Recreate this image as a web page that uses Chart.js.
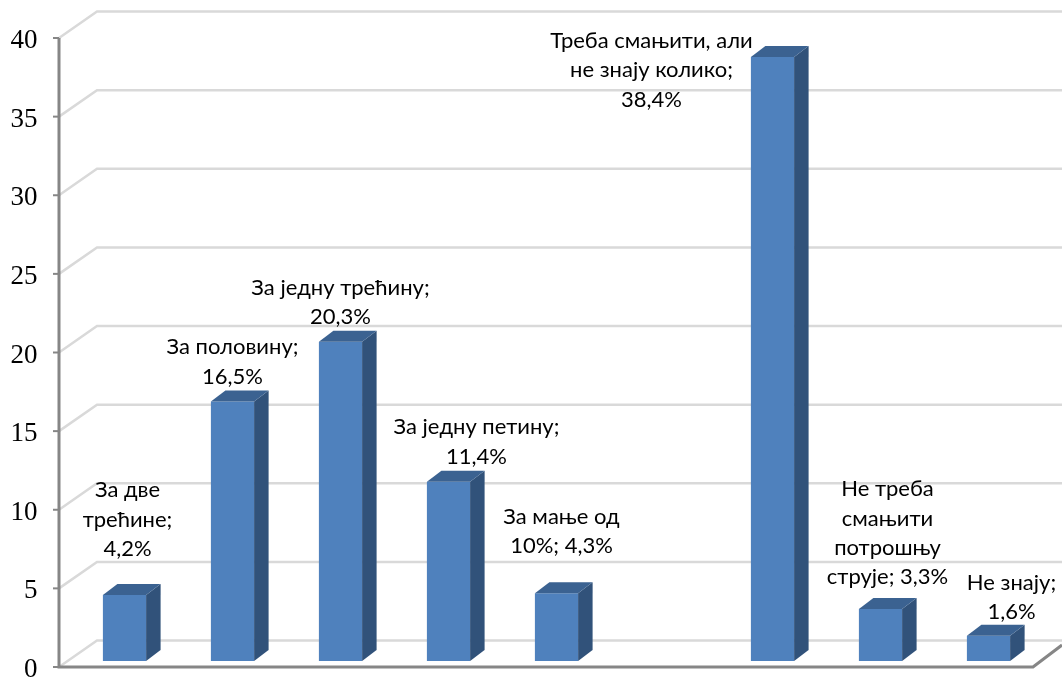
<!DOCTYPE html>
<html>
<head>
<meta charset="utf-8">
<style>
  html, body { margin: 0; padding: 0; background: #fff; }
  canvas { display: block; }
</style>
<script src="https://cdn.jsdelivr.net/npm/chart.js@4"></script>
</head>
<body>
<canvas id="myChart" width="1062" height="679"></canvas>
<script>
// last slot before "Не треба..." is empty in the original, so one blank category
const categories = ["За две трећине", "За половину", "За једну трећину", "За једну петину", "За мање од 10%", "", "Треба смањити, али не знају колико", "Не треба смањити потрошњу струје", "Не знају"];
const values = [4.2, 16.5, 20.3, 11.4, 4.3, null, 38.4, 3.3, 1.6];
const tickValues = [0, 5, 10, 15, 20, 25, 30, 35, 40];
const labelLines = [
    ["За две", "трећине;", "4,2%"],
    ["За половину;", "16,5%"],
    ["За једну трећину;", "20,3%"],
    ["За једну петину;", "11,4%"],
    ["За мање од", "10%; 4,3%"],
    [],
    ["Треба смањити, али", "не знају колико;", "38,4%"],
    ["Не треба", "смањити", "потрошњу", "струје; 3,3%"],
    ["Не знају;", "1,6%"]
];
// label placement relative to bar: horizontal shift, gap from last line to bar top
const labelShiftX = [3, 0, 0, 28, 5, 0, -121, 7, 23];
const labelGapY = [46, 25, 25, 25, 47, 0, -42.5, 32, 24];

const depthX = 14.5;
const depthY = 11;
const wallX = 38;
const wallY = 26.5;
const axisX = 59;
const floorRight = 1033;
const canvasRight = 1062;
// tick labels sit 3px under their tick in the original
const axisLift = 3;

let box3d = {
    id: "box3d",
    beforeDatasetsDraw: function (chart) {
        let c = chart.ctx;
        let y = chart.scales.y;
        let py0 = y.getPixelForValue(0) - axisLift;
        c.save();
        // back wall gridlines with their slanted side wall part
        c.strokeStyle = "#d9d9d9";
        c.lineWidth = 2.5;
        tickValues.forEach(function (t) {
            let py = y.getPixelForValue(t) - axisLift;
            c.beginPath();
            c.moveTo(axisX, py);
            c.lineTo(axisX + wallX, py - wallY);
            c.lineTo(canvasRight, py - wallY);
            c.stroke();
        });
        // axis and floor edge
        c.strokeStyle = "#868686";
        c.lineWidth = 3;
        c.beginPath();
        c.moveTo(axisX, y.getPixelForValue(40) - axisLift);
        c.lineTo(axisX, py0);
        c.lineTo(floorRight, py0);
        c.lineTo(canvasRight, py0 - 22);
        c.stroke();
        c.lineWidth = 2;
        tickValues.forEach(function (t) {
            let py = y.getPixelForValue(t) - axisLift;
            c.beginPath();
            c.moveTo(axisX - 6, py);
            c.lineTo(axisX, py);
            c.stroke();
        });
        c.restore();
    },
    afterDatasetsDraw: function (chart) {
        let c = chart.ctx;
        let bars = chart.getDatasetMeta(0).data;
        c.save();
        bars.forEach(function (bar, i) {
            if (values[i] === null) return;
            let left = bar.x - bar.width / 2;
            let right = bar.x + bar.width / 2;
            // side
            c.fillStyle = "#31527a";
            c.beginPath();
            c.moveTo(right, bar.y);
            c.lineTo(right + depthX, bar.y - depthY);
            c.lineTo(right + depthX, bar.base - depthY);
            c.lineTo(right, bar.base);
            c.closePath();
            c.fill();
            // top
            c.fillStyle = "#3b6291";
            c.beginPath();
            c.moveTo(left, bar.y);
            c.lineTo(left + depthX, bar.y - depthY);
            c.lineTo(right + depthX, bar.y - depthY);
            c.lineTo(right, bar.y);
            c.closePath();
            c.fill();
            // data label
            let lines = labelLines[i];
            c.fillStyle = "#000";
            c.font = "22px Lato, 'Open Sans', sans-serif";
            c.textAlign = "center";
            c.textBaseline = "middle";
            lines.forEach(function (line, k) {
                let ly = bar.y - labelGapY[i] - (lines.length - 1 - k) * 29.3;
                c.fillText(line, bar.x + labelShiftX[i], ly);
            });
        });
        c.restore();
    }
};

let ctx = document.getElementById("myChart").getContext("2d");
let myChart = new Chart(ctx, {
    type: "bar",
    data: {
        labels: categories,
        datasets: [{
            data: values,
            yAxisID: "yBars",
            backgroundColor: "#4f81bd",
            barPercentage: 0.4,
            categoryPercentage: 1
        }]
    },
    options: {
        responsive: false,
        animation: false,
        layout: {
            padding: { top: 38 + axisLift, bottom: 12 - axisLift, right: 19.5, left: 0 }
        },
        plugins: {
            legend: { display: false },
            tooltip: { enabled: false }
        },
        scales: {
            x: { display: false },
            y: {
                position: "left",
                min: 0,
                max: 40,
                afterFit: function (scale) {
                    scale.width = 70.5;
                    // tick labels may stick out of the plot area, no extra room for them
                    scale.paddingTop = 0;
                    scale.paddingBottom = 0;
                },
                afterBuildTicks: function (scale) {
                    scale.ticks = tickValues.map(function (v) { return { value: v }; });
                },
                border: { display: false },
                grid: { display: false, drawTicks: false },
                ticks: {
                    padding: 33,
                    color: "#000",
                    font: { family: "'Liberation Serif'", size: 27 }
                }
            },
            // bars stand a bit behind the front plane of the axis
            yBars: {
                display: false,
                min: -0.576,
                max: 39.424
            }
        }
    },
    plugins: [box3d]
});
</script>
</body>
</html>
